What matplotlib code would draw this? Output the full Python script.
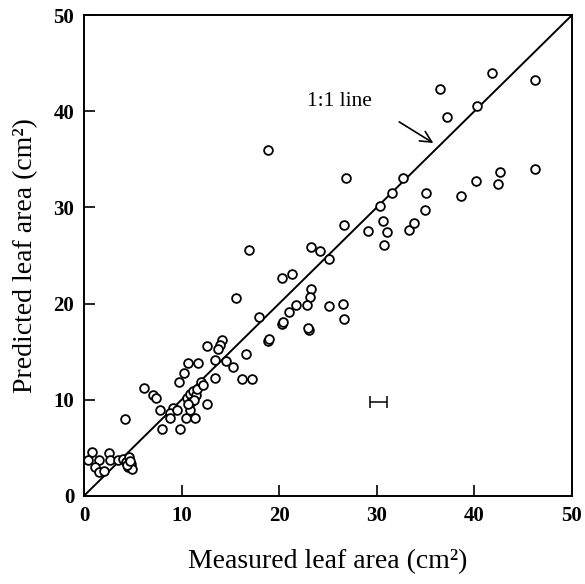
import numpy as np
import matplotlib
matplotlib.use('Agg')
import matplotlib.pyplot as plt

# Measured vs predicted leaf area (cm2)
measured = [
    0.8, 2.6, 0.4, 1.5, 2.7, 1.1, 1.5, 2.0, 3.5,
    4.0, 4.3, 4.5, 4.8, 4.6, 4.9, 4.4, 4.7, 4.2,
    6.1, 7.1, 7.4, 7.8, 9.1, 8.8, 9.5, 8.8, 8.0, 9.8, 10.5, 10.9, 11.4, 12.6,
    10.6, 10.9, 11.2, 11.5, 11.0, 11.3, 10.7, 11.6,
    9.7, 12.0, 10.2, 10.7, 11.7, 12.6, 12.2,
    13.4, 14.6, 15.3, 13.4, 16.2, 17.2, 16.6, 14.1, 13.9, 13.7,
    15.6, 17.9, 18.9, 19.0, 20.3, 20.4, 23.1, 23.0, 16.9, 18.9,
    20.3, 21.3, 21.7, 21.0, 23.3, 23.2, 22.9, 25.1, 26.5, 26.6,
    23.3, 24.2, 25.1, 26.6, 26.8,
    30.3, 31.6, 32.7, 30.6, 31.1, 29.1, 30.7, 33.3, 33.8, 34.9, 35.0,
    36.5, 37.2, 40.3, 41.8, 46.2, 46.2, 42.6, 42.4, 40.2, 38.6,
]
predicted = [
    4.6, 4.5, 3.7, 3.7, 3.7, 3.0, 2.5, 2.6, 3.7,
    3.8, 3.5, 3.0, 3.3, 4.0, 2.8, 3.2, 3.6, 8.0,
    11.2, 10.5, 10.2, 8.9, 9.1, 8.6, 8.9, 8.1, 7.0, 7.0, 8.1, 8.9, 8.1, 9.6,
    10.2, 10.6, 10.9, 10.5, 9.8, 10.0, 9.5, 11.1,
    11.8, 11.8, 12.8, 13.8, 13.8, 15.6, 11.5,
    14.1, 14.0, 13.4, 12.3, 12.2, 12.2, 14.8, 16.2, 15.7, 15.3,
    20.6, 18.6, 16.1, 16.3, 17.9, 18.1, 17.3, 17.5, 25.6, 36.0,
    22.7, 23.1, 19.8, 19.1, 21.5, 20.7, 19.8, 19.7, 20.0, 18.4,
    25.9, 25.5, 24.6, 28.2, 33.1,
    30.2, 31.5, 33.1, 28.6, 27.4, 27.5, 26.1, 27.7, 28.4, 29.7, 31.5,
    42.3, 39.4, 40.6, 44.0, 43.3, 34.0, 33.7, 32.4, 32.7, 31.2,
]

# representative error bar
err_x, err_y, err_half = 30.2, 9.8, 0.9

plt.rcParams['font.family'] = ['Liberation Serif', 'DejaVu Serif']

fig = plt.figure(figsize=(5.85, 5.84), dpi=100)
ax = fig.add_axes([0.1436, 0.151, 0.834, 0.823])

# 1:1 line
ax.plot([0, 50], [0, 50], color='black', lw=1.4)

ax.plot(measured, predicted, linestyle='none', marker='o', markersize=6.3,
        markerfacecolor='white', markeredgecolor='black', markeredgewidth=1.3)

ax.errorbar(err_x, err_y, xerr=err_half, fmt='none', ecolor='black',
            elinewidth=1.1, capsize=4.5, capthick=1.1)

ax.text(26.2, 41.0, '1:1 line', fontsize=15.5, ha='center', va='center')
ax.annotate('', xy=(35.8, 36.7), xytext=(32.3, 38.9),
            arrowprops=dict(arrowstyle='->', color='black', lw=1.2,
                            shrinkA=0, shrinkB=0, mutation_scale=20))

ax.set_xlim(0, 50)
ax.set_ylim(0, 50)
ax.set_xticks([0, 10, 20, 30, 40, 50])
ax.set_yticks([0, 10, 20, 30, 40, 50])
ax.tick_params(direction='in', length=8, width=1.2, pad=7, labelsize=15)
for lab in ax.get_xticklabels() + ax.get_yticklabels():
    lab.set_fontweight('bold')
for s in ax.spines.values():
    s.set_linewidth(1.4)

ax.set_xlabel('Measured leaf area (cm²)', fontsize=20, labelpad=17)
ax.set_ylabel('Predicted leaf area (cm²)', fontsize=20, labelpad=11)

plt.savefig('out.png', dpi=100)
